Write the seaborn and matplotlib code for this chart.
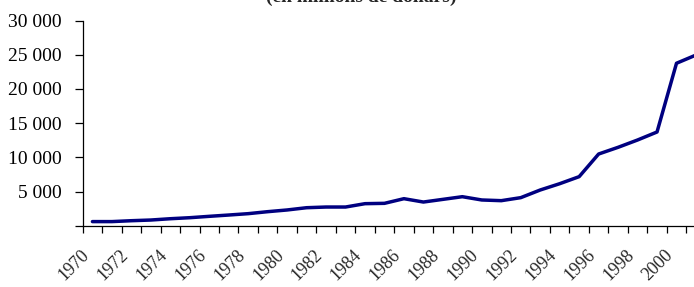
import numpy as np
import seaborn as sns
import matplotlib.pyplot as plt
import matplotlib.transforms as mtransforms
from matplotlib.ticker import FuncFormatter, FixedLocator

# data (millions of dollars)
years = list(range(1970, 2002))
values = [600, 600, 730, 830, 1020, 1170, 1370, 1560, 1760, 2050,
          2300, 2630, 2730, 2730, 3220, 3270, 3950, 3460, 3850, 4240,
          3760, 3660, 4100, 5220, 6140, 7170, 10480, 11460, 12530, 13700,
          23750, 24950]
y_ticks = [0, 5000, 10000, 15000, 20000, 25000, 30000]
label_years = list(range(1970, 2002, 2))

sns.set_style("white")
plt.rcParams['font.family'] = ['Liberation Serif', 'DejaVu Serif']

fig = plt.figure(figsize=(6.94, 2.87), dpi=100)
# axes runs past the right edge of the figure, as in the cropped reference
ax = fig.add_axes([82.7 / 694, 61.3 / 287, (705.7 - 82.7) / 694, 205.2 / 287])

sns.lineplot(x=years, y=values, ax=ax, color='#000080', linewidth=2.5)

ax.set_xlim(1969.5, 2001.5)
ax.set_ylim(0, 30000)

# y axis
ax.set_yticks(y_ticks)
ax.yaxis.set_major_formatter(FuncFormatter(
    lambda v, p: '' if v == 0 else '{:,.0f}'.format(v).replace(',', ' ')))
ax.tick_params(axis='y', direction='out', length=6, width=0.9, pad=9,
               labelsize=14, left=True, colors='black')

# x axis: tick marks between categories, labels every other year
ax.xaxis.set_major_locator(FixedLocator(label_years))
ax.xaxis.set_minor_locator(FixedLocator(np.arange(1969.5, 2002, 1)))
ax.set_xticklabels([str(y) for y in label_years], rotation=45, ha='right',
                   rotation_mode='anchor')
ax.tick_params(axis='x', which='major', length=0, pad=15, labelsize=13)
ax.tick_params(axis='x', which='minor', direction='out', length=5, width=0.9,
               bottom=True, color='black')

# nudge the rotated labels left so they hang below their year
shift = mtransforms.ScaledTranslation(-12 / 100, 0, fig.dpi_scale_trans)
for lab in ax.get_xticklabels():
    lab.set_transform(lab.get_transform() + shift)

for side in ['top', 'right']:
    ax.spines[side].set_visible(False)
for side in ['left', 'bottom']:
    ax.spines[side].set_color('black')
    ax.spines[side].set_linewidth(0.9)

ax.set_xlabel('')
ax.set_ylabel('')

fig.text(361 / 694, 1 - 2 / 287, '(en millions de dollars)', ha='center',
         va='baseline', fontsize=14, fontweight='bold')

fig.savefig('out.png', dpi=100)
